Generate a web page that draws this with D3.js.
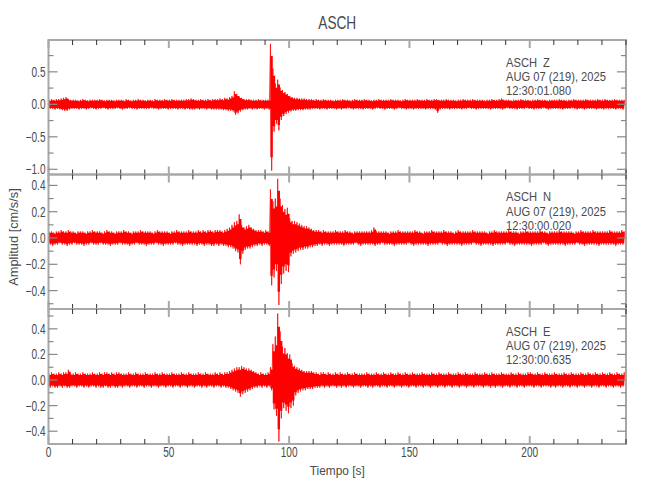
<!DOCTYPE html>
<html>
<head>
<meta charset="utf-8">
<script src="https://cdn.jsdelivr.net/npm/d3@7"></script>
<style>
  body { margin: 0; background: #fff; }
  text { font-family: "Liberation Sans", Arial, sans-serif; fill: #4a4a4a; }
</style>
</head>
<body>
<svg id="chart" width="650" height="500"></svg>
<script>
// ---- data ----
var station = "ASCH";
var dateLabel = "AUG 07 (219), 2025";
var components = ["Z", "N", "E"];
var startTimes = ["12:30:01.080", "12:30:00.020", "12:30:00.635"];
var timeRange = [0, 240];
var xMajorTicks = [0, 50, 100, 150, 200];
var binSize = 1; // seconds per envelope bin

// y ranges and tick values per component
var rangeZ = [-1.08, 0.99], rangeN = [-0.54, 0.483], rangeE = [-0.50, 0.555];
var labelTicksZ = [-1.0, -0.5, 0.0, 0.5];
var labelTicksN = [-0.4, -0.2, 0.0, 0.2, 0.4];
var labelTicksE = [-0.4, -0.2, 0.0, 0.2, 0.4];
var minorTicksZ = [-0.75, -0.25, 0.25, 0.75];
var minorTicksN = [-0.5, -0.3, -0.1, 0.1, 0.3];
var minorTicksE = [-0.3, -0.1, 0.1, 0.3, 0.5];

// envelope (max / min per 1 s bin), cm/s/s
var hiZ = [
  .07,.08,.07,.08,.08,.09,.10,.11,.08,.07,  .07,.07,.06,.07,.08,.07,.06,.07,.07,.07,
  .07,.08,.07,.06,.07,.07,.07,.06,.07,.07,  .07,.06,.08,.07,.06,.07,.07,.08,.07,.07,
  .06,.07,.07,.06,.08,.07,.07,.07,.08,.07,  .07,.08,.07,.07,.07,.07,.07,.08,.08,.09,
  .08,.07,.07,.08,.07,.07,.08,.07,.08,.08,  .08,.09,.08,.10,.09,.11,.13,.20,.16,.12,
  .10,.08,.08,.08,.07,.07,.07,.08,.07,.07,  .07,.07,.93,.55,.32,.38,.26,.22,.19,.16,
  .13,.11,.10,.10,.09,.09,.09,.08,.08,.08,  .07,.08,.07,.07,.08,.07,.07,.07,.06,.07,
  .07,.07,.08,.07,.07,.06,.07,.08,.07,.07,  .07,.08,.07,.07,.06,.07,.07,.08,.07,.07,
  .07,.07,.08,.07,.07,.07,.06,.07,.08,.07,  .07,.07,.07,.08,.07,.07,.07,.08,.07,.07,
  .08,.08,.07,.07,.07,.08,.07,.07,.07,.06,  .07,.07,.08,.07,.07,.07,.08,.07,.07,.07,
  .07,.06,.07,.07,.08,.07,.07,.08,.09,.07,  .07,.07,.06,.07,.07,.07,.08,.07,.07,.07,
  .06,.07,.07,.08,.07,.07,.07,.06,.07,.07,  .07,.07,.08,.07,.07,.06,.07,.07,.08,.07,
  .07,.07,.07,.08,.07,.07,.07,.07,.08,.07,  .07,.08,.07,.07,.07,.08,.07,.07,.07,.07
];
var loZ = [
  -.07,-.07,-.08,-.07,-.08,-.09,-.10,-.10,-.08,-.07,  -.07,-.07,-.08,-.07,-.07,-.08,-.07,-.06,-.07,-.08,
  -.07,-.07,-.06,-.07,-.08,-.07,-.07,-.07,-.06,-.07,  -.08,-.07,-.07,-.06,-.07,-.07,-.08,-.07,-.07,-.07,
  -.07,-.07,-.06,-.07,-.07,-.08,-.07,-.07,-.07,-.08,  -.07,-.07,-.07,-.08,-.07,-.07,-.08,-.07,-.08,-.08,
  -.08,-.07,-.08,-.07,-.07,-.08,-.07,-.08,-.08,-.08,  -.08,-.08,-.09,-.09,-.10,-.10,-.11,-.16,-.14,-.11,
  -.09,-.08,-.08,-.07,-.08,-.07,-.08,-.07,-.07,-.08,  -.07,-.08,-1.02,-.42,-.30,-.40,-.24,-.18,-.15,-.13,
  -.11,-.10,-.10,-.09,-.09,-.09,-.08,-.08,-.08,-.07,  -.07,-.07,-.08,-.07,-.07,-.08,-.07,-.07,-.07,-.08,
  -.07,-.08,-.07,-.07,-.06,-.07,-.08,-.07,-.07,-.07,  -.08,-.07,-.07,-.07,-.08,-.07,-.06,-.07,-.07,-.08,
  -.07,-.07,-.07,-.08,-.07,-.06,-.07,-.07,-.08,-.07,  -.07,-.08,-.07,-.07,-.07,-.07,-.08,-.07,-.07,-.07,
  -.08,-.13,-.08,-.07,-.07,-.07,-.08,-.07,-.07,-.07,  -.07,-.08,-.07,-.07,-.06,-.07,-.07,-.08,-.07,-.07,
  -.07,-.07,-.07,-.08,-.07,-.07,-.07,-.07,-.08,-.07,  -.06,-.07,-.07,-.07,-.08,-.07,-.07,-.07,-.06,-.07,
  -.07,-.08,-.07,-.07,-.07,-.06,-.07,-.08,-.07,-.07,  -.07,-.07,-.07,-.08,-.07,-.07,-.07,-.06,-.07,-.08,
  -.07,-.07,-.08,-.07,-.07,-.07,-.07,-.08,-.07,-.07,  -.08,-.07,-.07,-.07,-.07,-.08,-.07,-.07,-.08,-.07
];
var hiN = [
  .05,.05,.04,.05,.05,.06,.05,.05,.06,.05,  .05,.04,.05,.05,.05,.04,.05,.05,.06,.05,
  .05,.05,.04,.05,.06,.05,.05,.04,.05,.05,  .05,.06,.05,.05,.04,.05,.05,.05,.06,.05,
  .05,.05,.05,.04,.05,.06,.05,.05,.05,.05,  .04,.05,.05,.06,.05,.05,.05,.05,.06,.05,
  .05,.05,.06,.05,.06,.05,.06,.06,.05,.06,  .06,.06,.05,.06,.07,.08,.10,.12,.13,.18,
  .10,.08,.09,.10,.08,.07,.06,.06,.06,.05,  .06,.05,.37,.28,.30,.45,.30,.25,.22,.23,
  .15,.13,.13,.12,.11,.10,.09,.09,.08,.07,  .06,.06,.06,.05,.06,.05,.05,.05,.05,.06,
  .05,.05,.05,.06,.05,.05,.04,.05,.05,.05,  .05,.05,.05,.05,.06,.08,.05,.05,.05,.05,
  .05,.04,.05,.05,.05,.06,.05,.05,.05,.05,  .05,.05,.06,.05,.05,.04,.05,.05,.05,.06,
  .05,.05,.05,.05,.06,.05,.05,.05,.04,.05,  .06,.05,.05,.05,.05,.05,.06,.05,.05,.05,
  .05,.05,.04,.05,.05,.06,.05,.05,.05,.05,  .05,.06,.05,.05,.05,.04,.05,.05,.06,.05,
  .05,.05,.05,.05,.06,.05,.05,.04,.05,.05,  .05,.05,.06,.05,.05,.05,.05,.05,.04,.05,
  .05,.06,.05,.05,.05,.05,.06,.05,.05,.05,  .05,.05,.05,.06,.05,.05,.05,.05,.06,.05
];
var loN = [
  -.05,-.06,-.05,-.05,-.04,-.05,-.05,-.06,-.05,-.05,  -.04,-.05,-.05,-.05,-.06,-.05,-.05,-.04,-.05,-.05,
  -.05,-.04,-.05,-.05,-.05,-.06,-.05,-.05,-.05,-.04,  -.05,-.05,-.05,-.06,-.05,-.05,-.04,-.05,-.05,-.05,
  -.06,-.05,-.05,-.05,-.04,-.05,-.05,-.06,-.05,-.05,  -.05,-.05,-.04,-.05,-.05,-.06,-.05,-.05,-.05,-.05,
  -.05,-.06,-.05,-.05,-.06,-.05,-.05,-.06,-.06,-.05,  -.06,-.05,-.06,-.06,-.07,-.07,-.08,-.10,-.11,-.20,
  -.12,-.09,-.08,-.08,-.07,-.06,-.06,-.05,-.06,-.05,  -.05,-.06,-.36,-.30,-.25,-.51,-.35,-.27,-.25,-.26,
  -.14,-.12,-.11,-.10,-.09,-.09,-.08,-.08,-.07,-.07,  -.06,-.06,-.05,-.06,-.05,-.05,-.06,-.05,-.05,-.05,
  -.05,-.05,-.06,-.05,-.05,-.05,-.05,-.04,-.05,-.06,  -.05,-.05,-.05,-.05,-.05,-.06,-.05,-.05,-.04,-.05,
  -.05,-.05,-.05,-.06,-.05,-.05,-.05,-.05,-.05,-.04,  -.05,-.06,-.05,-.05,-.05,-.05,-.05,-.06,-.05,-.05,
  -.05,-.05,-.04,-.05,-.05,-.06,-.05,-.05,-.05,-.05,  -.05,-.06,-.05,-.05,-.05,-.05,-.04,-.05,-.05,-.06,
  -.05,-.05,-.05,-.05,-.06,-.05,-.05,-.05,-.05,-.05,  -.04,-.05,-.05,-.06,-.05,-.05,-.05,-.05,-.05,-.05,
  -.06,-.05,-.05,-.05,-.05,-.04,-.05,-.06,-.05,-.05,  -.05,-.05,-.05,-.05,-.06,-.05,-.05,-.05,-.05,-.04,
  -.05,-.05,-.06,-.05,-.05,-.05,-.05,-.05,-.06,-.05,  -.05,-.05,-.05,-.05,-.05,-.06,-.05,-.05,-.05,-.05
];
var hiE = [
  .05,.06,.05,.05,.06,.05,.06,.06,.08,.05,  .05,.06,.05,.05,.06,.05,.05,.05,.06,.05,
  .05,.06,.05,.06,.06,.05,.06,.05,.06,.06,  .05,.05,.05,.06,.05,.05,.06,.05,.05,.05,
  .06,.05,.05,.05,.06,.05,.05,.06,.05,.05,  .05,.06,.05,.05,.05,.06,.05,.05,.06,.05,
  .05,.05,.06,.05,.05,.06,.05,.05,.05,.06,  .05,.06,.05,.06,.06,.07,.08,.09,.10,.10,
  .11,.10,.09,.09,.08,.07,.06,.05,.06,.05,  .05,.06,.10,.28,.34,.52,.38,.26,.25,.21,
  .20,.13,.11,.10,.09,.08,.07,.07,.07,.07,  .06,.06,.05,.06,.06,.05,.06,.05,.05,.06,
  .05,.06,.05,.05,.06,.05,.05,.06,.05,.05,  .05,.05,.06,.05,.05,.05,.06,.05,.05,.06,
  .05,.05,.06,.05,.05,.06,.05,.05,.06,.05,  .05,.06,.05,.05,.05,.06,.05,.05,.05,.06,
  .05,.05,.06,.05,.05,.05,.06,.05,.05,.05,  .06,.05,.05,.06,.05,.05,.05,.06,.05,.05,
  .05,.06,.05,.05,.06,.05,.05,.05,.06,.05,  .05,.05,.06,.05,.05,.06,.05,.05,.05,.06,
  .06,.05,.05,.06,.05,.05,.06,.05,.05,.05,  .06,.05,.05,.05,.06,.05,.05,.06,.05,.05,
  .05,.06,.05,.05,.06,.05,.05,.06,.05,.05,  .06,.05,.05,.06,.05,.05,.06,.05,.05,.06
];
var loE = [
  -.06,-.05,-.06,-.06,-.05,-.06,-.05,-.06,-.06,-.05,  -.05,-.06,-.05,-.05,-.06,-.05,-.06,-.05,-.05,-.06,
  -.05,-.06,-.06,-.05,-.06,-.06,-.05,-.06,-.06,-.05,  -.06,-.05,-.05,-.06,-.05,-.05,-.06,-.05,-.05,-.06,
  -.05,-.05,-.06,-.05,-.05,-.06,-.05,-.05,-.06,-.05,  -.05,-.06,-.05,-.05,-.06,-.05,-.05,-.06,-.05,-.05,
  -.06,-.05,-.05,-.06,-.05,-.06,-.05,-.05,-.06,-.05,  -.05,-.06,-.05,-.06,-.06,-.07,-.08,-.09,-.10,-.13,
  -.11,-.10,-.09,-.08,-.07,-.06,-.06,-.05,-.06,-.05,  -.06,-.05,-.08,-.23,-.28,-.48,-.30,-.22,-.24,-.26,
  -.22,-.20,-.12,-.10,-.09,-.08,-.08,-.07,-.07,-.07,  -.06,-.06,-.06,-.05,-.06,-.05,-.06,-.05,-.05,-.06,
  -.05,-.06,-.05,-.06,-.05,-.05,-.06,-.05,-.05,-.06,  -.05,-.05,-.06,-.05,-.06,-.05,-.05,-.06,-.05,-.05,
  -.06,-.05,-.05,-.06,-.05,-.05,-.06,-.05,-.05,-.06,  -.05,-.05,-.06,-.05,-.05,-.06,-.05,-.05,-.06,-.05,
  -.05,-.06,-.05,-.05,-.06,-.05,-.05,-.06,-.05,-.05,  -.06,-.05,-.05,-.06,-.05,-.05,-.06,-.05,-.05,-.05,
  -.06,-.05,-.05,-.06,-.05,-.06,-.05,-.05,-.06,-.05,  -.05,-.06,-.05,-.05,-.06,-.05,-.05,-.06,-.05,-.05,
  -.05,-.06,-.05,-.05,-.06,-.05,-.05,-.05,-.06,-.05,  -.06,-.05,-.05,-.06,-.05,-.05,-.06,-.05,-.05,-.06,
  -.05,-.05,-.06,-.05,-.05,-.06,-.05,-.05,-.06,-.05,  -.05,-.06,-.05,-.05,-.06,-.05,-.05,-.06,-.05,-.05
];

// ---- layout ----
var dim = { left: 48.5, right: 626, top: 40, bottom: 444 };
var panelEdges = [40, 174.5, 309, 444];
var frameColor = "#a8a8a8";
var traceColor = "#ff0000";

var panels = [
  { comp: components[0], start: startTimes[0], hi: hiZ, lo: loZ, range: rangeZ, labels: labelTicksZ, minor: minorTicksZ },
  { comp: components[1], start: startTimes[1], hi: hiN, lo: loN, range: rangeN, labels: labelTicksN, minor: minorTicksN },
  { comp: components[2], start: startTimes[2], hi: hiE, lo: loE, range: rangeE, labels: labelTicksE, minor: minorTicksE }
];
var fmt = d3.format(".1f");

var svg = d3.select("#chart");

// narrow text, like the plotting package's vector font
function label(parent, x, y, txt, size, sx, anchor) {
  return parent.append("text")
    .attr("transform", "translate(" + x + "," + y + ") scale(" + sx + ",1)")
    .attr("text-anchor", anchor || "start")
    .style("font-size", size + "px")
    .text(txt);
}

var xScale = d3.scaleLinear().domain(timeRange).range([dim.left, dim.right]);
var xMinor = d3.range(timeRange[0], timeRange[1] + 1, 10).filter(function(t) { return t % 50 != 0; });
var xMajorAll = d3.range(timeRange[0], timeRange[1] + 1, 50);

// title
label(svg, (dim.left + dim.right) / 2, 29, station, 18, 0.76, "middle");

panels.forEach(function(p, k) {
  var y0 = panelEdges[k], y1 = panelEdges[k + 1];
  var yScale = d3.scaleLinear().domain(p.range).range([y1, y0]);
  var g = svg.append("g");

  var bins = p.hi.map(function(v, i) { return { t: i * binSize, hi: v, lo: p.lo[i] }; });

  // solid band of each bin's min..max
  var area = d3.area()
               .curve(d3.curveStepAfter)
               .x(function(d) { return xScale(d.t + 0.2); })
               .y0(function(d) { return yScale(d.lo * 0.8); })
               .y1(function(d) { return yScale(d.hi * 0.8); });
  g.append("path")
   .attr("d", area(bins))
   .attr("fill", traceColor);

  // zigzag through the extremes
  var pts = [];
  bins.forEach(function(d) {
    pts.push([d.t + 0.25, d.hi]);
    pts.push([d.t + 0.75, d.lo]);
  });
  var line = d3.line()
               .x(function(d) { return xScale(d[0]); })
               .y(function(d) { return yScale(d[1]); });
  g.append("path")
   .attr("d", line(pts))
   .attr("fill", "none")
   .attr("stroke", traceColor)
   .attr("stroke-opacity", 0.75)
   .attr("stroke-width", 1);

  // frame
  g.append("rect")
   .attr("x", dim.left).attr("y", y0)
   .attr("width", dim.right - dim.left).attr("height", y1 - y0)
   .attr("fill", "none")
   .attr("stroke", frameColor)
   .attr("stroke-width", 2);

  // x ticks top and bottom
  [[y0, 1], [y1, -1]].forEach(function(e) {
    g.selectAll(null).data(xMinor).enter().append("line")
     .attr("x1", function(d) { return xScale(d); }).attr("x2", function(d) { return xScale(d); })
     .attr("y1", e[0]).attr("y2", e[0] + e[1] * 5)
     .attr("stroke", "#333").attr("stroke-width", 1);
    g.selectAll(null).data(xMajorAll).enter().append("line")
     .attr("x1", function(d) { return xScale(d); }).attr("x2", function(d) { return xScale(d); })
     .attr("y1", e[0]).attr("y2", e[0] + e[1] * 8)
     .attr("stroke", frameColor).attr("stroke-width", 2);
  });

  // y ticks left and right
  [[dim.left, 1], [dim.right, -1]].forEach(function(e) {
    g.selectAll(null).data(p.labels).enter().append("line")
     .attr("x1", e[0]).attr("x2", e[0] + e[1] * 9)
     .attr("y1", function(d) { return yScale(d); }).attr("y2", function(d) { return yScale(d); })
     .attr("stroke", "#888").attr("stroke-width", 1.2);
    g.selectAll(null).data(p.minor).enter().append("line")
     .attr("x1", e[0]).attr("x2", e[0] + e[1] * 5)
     .attr("y1", function(d) { return yScale(d); }).attr("y2", function(d) { return yScale(d); })
     .attr("stroke", "#888").attr("stroke-width", 1.2);
  });

  // y tick labels
  p.labels.forEach(function(v) {
    label(g, dim.left - 3, yScale(v) + 5, fmt(v).replace("-", "\u2212"), 14, 0.72, "end");
  });

  // station annotation
  label(g, 506, y0 + 26.5, station, 13, 0.86);
  label(g, 543, y0 + 26.5, p.comp, 13, 0.86);
  label(g, 506, y0 + 41, dateLabel, 13, 0.86);
  label(g, 506, y0 + 55, p.start, 13, 0.86);
});

// x tick labels
xMajorTicks.forEach(function(v) {
  label(svg, xScale(v), 457, String(v), 14, 0.72, "middle");
});

// axis titles
label(svg, (dim.left + dim.right) / 2, 475, "Tiempo [s]", 13.5, 0.88, "middle");
svg.append("text")
   .attr("transform", "translate(18,237) rotate(-90) scale(0.95,1)")
   .attr("text-anchor", "middle")
   .style("font-size", "13.5px")
   .text("Amplitud [cm/s/s]");
</script>
</body>
</html>
